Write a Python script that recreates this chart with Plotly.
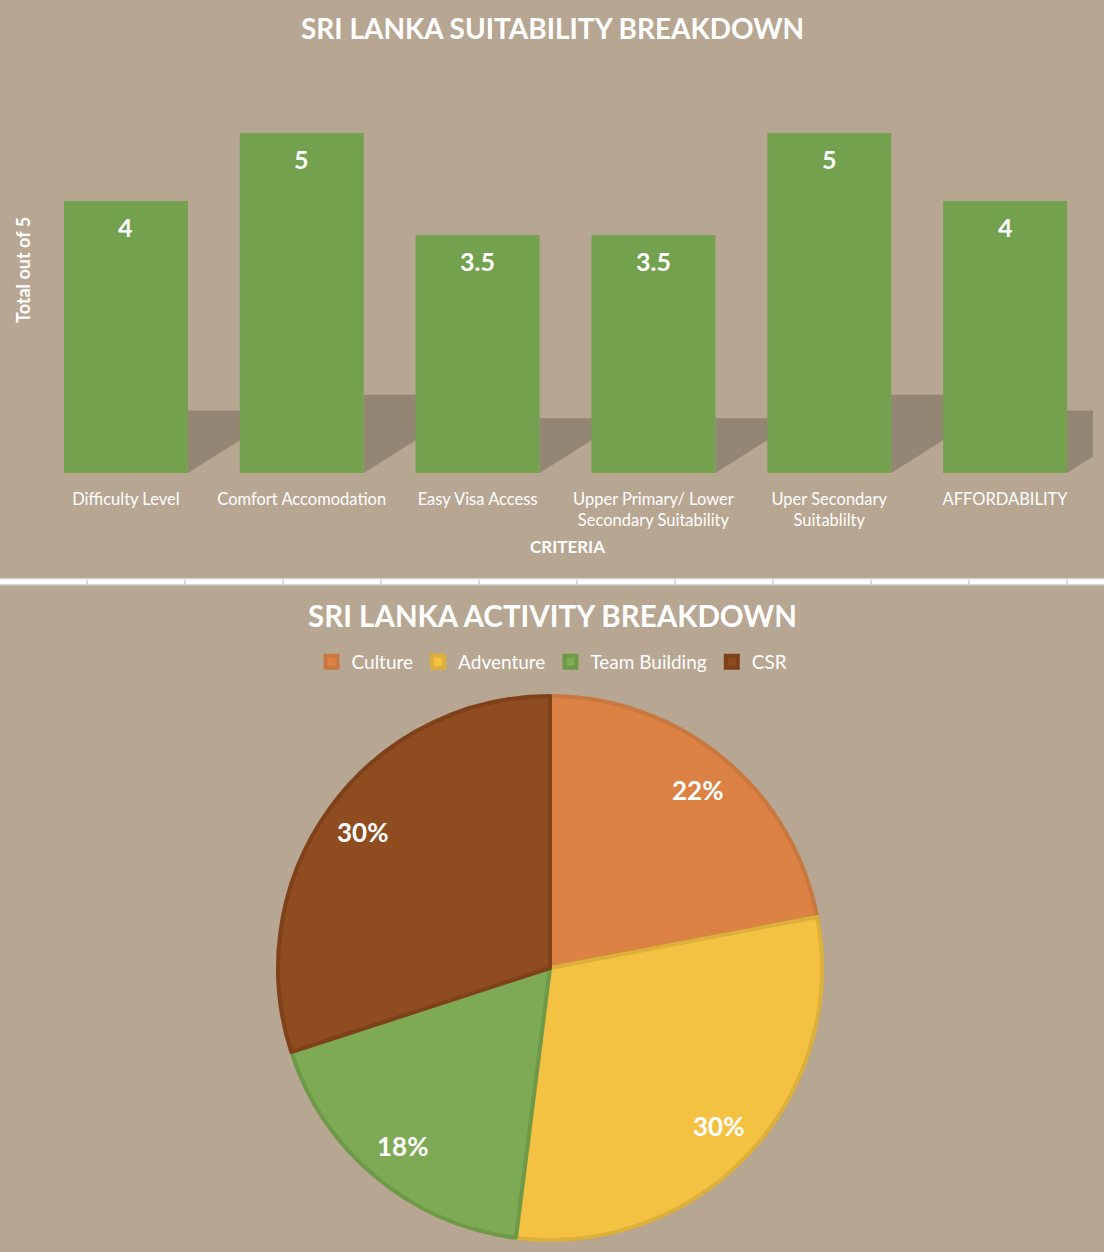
import math
import plotly.graph_objects as go

# Suitability data (bar chart)
criteria = ["Difficulty Level", "Comfort Accomodation", "Easy Visa Access",
            "Upper Primary/ Lower Secondary Suitability", "Uper Secondary Suitablilty",
            "AFFORDABILITY"]
criteria_ticks = ["Difficulty Level", "Comfort Accomodation", "Easy Visa Access",
                  "Upper Primary/ Lower<br>Secondary Suitability", "Uper Secondary<br>Suitablilty",
                  "AFFORDABILITY"]
scores = [4, 5, 3.5, 3.5, 5, 4]

# Activity data (pie chart)
activities = ["Culture", "Adventure", "Team Building", "CSR"]
shares = [22, 30, 18, 30]

BG = "#b7a691"
FONT = "Lato"
W, H = 1104, 1252


def py(px):
    # pixel row from top -> paper y
    return 1 - px / H


pie_x = [278 / W, 822 / W]
pie_y = [py(1240), py(696)]

fig = go.Figure()

fig.add_trace(go.Bar(
    x=list(range(len(criteria))), y=scores, width=0.705,
    marker=dict(color="#74a14e", line=dict(width=0)),
    hovertext=criteria, hoverinfo="text+y",
    xaxis="x", yaxis="y", showlegend=False,
))

fig.add_trace(go.Pie(
    labels=activities, values=shares, sort=False, direction="clockwise",
    marker=dict(colors=["#dc8244", "#f4c242", "#7ea955", "#8f4c20"],
                line=dict(color=["#c97840", "#ddb03a", "#6e9a47", "#7f411a"], width=4)),
    textinfo="none",
    domain=dict(x=pie_x, y=pie_y),
))

# soft shadows cast by the bars onto the back wall
shapes = []
for i, v in enumerate(scores):
    xr = i + 0.705 / 2
    top = v * 0.23
    shapes.append(dict(
        type="path", xref="x", yref="y", layer="below", line=dict(width=0),
        fillcolor="rgba(120,108,92,0.55)",
        path=f"M {xr},0 L {xr},{top} L {xr + 0.65},{top} L {xr + 0.65},0.49 L {xr + 0.3},0.49 Z",
    ))

# spreadsheet row border between the two charts
shapes.append(dict(type="rect", xref="paper", yref="paper", x0=0, x1=1,
                   y0=py(585.5), y1=py(578), fillcolor="#d2d2d2", line=dict(width=0)))
shapes.append(dict(type="rect", xref="paper", yref="paper", x0=0, x1=1,
                   y0=py(584), y1=py(579.5), fillcolor="white", line=dict(width=0)))
for k in range(12):
    xp = 87 + k * 98
    shapes.append(dict(type="line", xref="paper", yref="paper", x0=xp / W, x1=xp / W,
                       y0=py(584), y1=py(579.5), line=dict(color="#d2d2d2", width=1.5)))

annotations = [
    dict(text="SRI LANKA SUITABILITY BREAKDOWN", x=0.5, y=py(28), xref="paper", yref="paper",
         yanchor="middle", showarrow=False,
         font=dict(family=FONT, size=28, color="white", weight="bold")),
    dict(text="SRI LANKA ACTIVITY BREAKDOWN", x=0.5, y=py(615), xref="paper", yref="paper",
         yanchor="middle", showarrow=False,
         font=dict(family=FONT, size=29.5, color="white", weight="bold")),
    dict(text="CRITERIA", x=0.5 + 15 / W, y=py(546), xref="paper", yref="paper",
         yanchor="middle", showarrow=False,
         font=dict(family=FONT, size=17, color="white", weight="bold")),
    dict(text="Total out of 5", x=23 / W, y=py(270), xref="paper", yref="paper", textangle=-90,
         xanchor="center", yanchor="middle", showarrow=False,
         font=dict(family=FONT, size=18, color="white", weight="bold")),
]
for i, v in enumerate(scores):
    annotations.append(dict(
        text=f"{v:g}", x=i, y=v, xref="x", yref="y", yanchor="top", yshift=-9,
        showarrow=False, font=dict(family=FONT, size=25, color="white", weight="bold")))

# percentage labels placed out toward the rim of each slice
cx = (pie_x[0] + pie_x[1]) / 2 * W
cy = (1 - (pie_y[0] + pie_y[1]) / 2) * H
radius = (pie_x[1] - pie_x[0]) * W / 2
total = sum(shares)
start = 0.0
for s in shares:
    mid = (start + s / 2) / total * 2 * math.pi
    start += s
    lx = cx + 0.85 * radius * math.sin(mid)
    ly = cy - 0.85 * radius * math.cos(mid)
    annotations.append(dict(
        text=f"{round(100 * s / total)}%", x=lx / W, y=py(ly), xref="paper", yref="paper",
        xanchor="center", yanchor="middle", showarrow=False,
        font=dict(family=FONT, size=26, color="white", weight="bold")))

fig.update_layout(
    width=W, height=H, margin=dict(l=0, r=0, t=0, b=0),
    paper_bgcolor=BG, plot_bgcolor="rgba(0,0,0,0)",
    font=dict(family=FONT, color="white"),
    xaxis=dict(domain=[38 / W, 1093 / W], range=[-0.5, 5.5], tickmode="array",
               tickvals=list(range(len(criteria))), ticktext=criteria_ticks,
               tickfont=dict(family=FONT, size=16.5, color="white"), ticklabelstandoff=14,
               showgrid=False, zeroline=False, showline=False, fixedrange=True),
    yaxis=dict(domain=[py(473), py(65)], range=[0, 6], showticklabels=False,
               showgrid=False, zeroline=False, showline=False, fixedrange=True),
    legend=dict(orientation="h", x=0.5, xanchor="center", y=py(662), yanchor="middle",
                font=dict(family=FONT, size=19, color="white"), itemwidth=30,
                bgcolor="rgba(0,0,0,0)"),
    shapes=shapes, annotations=annotations,
)

fig.write_html("out.html", config={"displayModeBar": False},
               post_script="document.body.style.margin='0';")
